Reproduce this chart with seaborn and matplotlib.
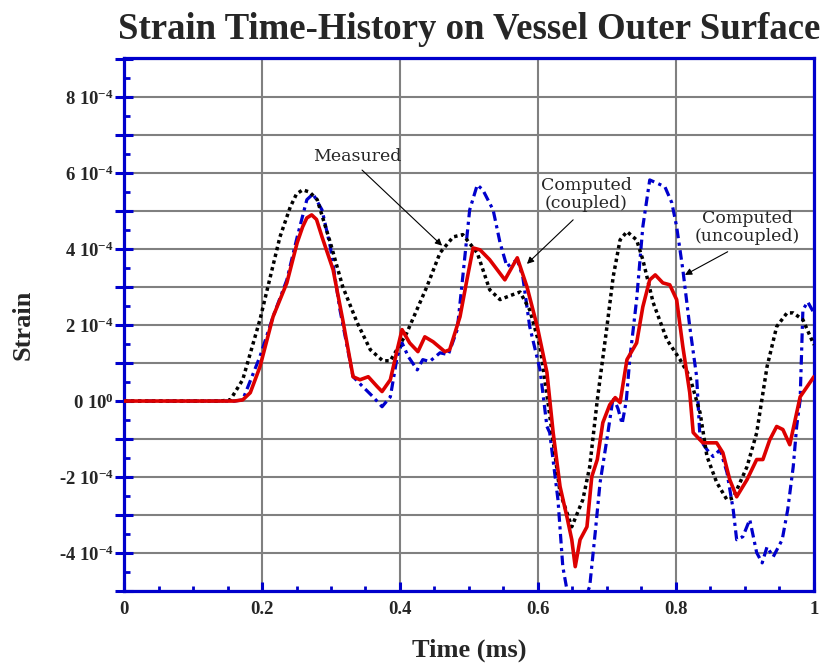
import numpy as np
import pandas as pd
import matplotlib
matplotlib.use("Agg")
import matplotlib.pyplot as plt
from matplotlib.ticker import FixedLocator, FuncFormatter, MultipleLocator
import seaborn as sns

# ---- data (strain in units of 1e-4) ----
t_meas = [0.0, 0.139, 0.154, 0.172, 0.197, 0.212, 0.226, 0.241, 0.250, 0.259, 0.269, 0.280, 0.299, 0.317,
          0.338, 0.357, 0.375, 0.386, 0.410, 0.439, 0.458, 0.477, 0.491, 0.512, 0.530, 0.545,
          0.559, 0.574, 0.588, 0.603, 0.614, 0.632, 0.649, 0.665, 0.675, 0.686, 0.700, 0.709,
          0.719, 0.729, 0.743, 0.752, 0.767, 0.787, 0.806, 0.820, 0.835, 0.845, 0.859, 0.874,
          0.883, 0.903, 0.917, 0.932, 0.946, 0.961, 0.970, 0.984, 1.0]
s_meas = [0.0, 0.0, 0.03, 0.56, 2.14, 3.27, 4.32, 5.11, 5.45, 5.56, 5.50, 5.30, 4.17, 3.01,
          2.06, 1.35, 1.06, 1.06, 1.80, 3.01, 3.90, 4.32, 4.38, 3.90, 2.93, 2.67,
          2.77, 2.87, 2.40, 1.43, 0.03, -2.41, -3.31, -2.60, -1.73, 0.03, 1.96, 3.27,
          4.24, 4.46, 4.24, 3.72, 2.59, 1.61, 1.09, 0.64, -0.31, -1.46, -2.14, -2.60,
          -2.55, -1.73, -0.84, 0.90, 1.96, 2.32, 2.32, 2.14, 1.48]

t_coup = [0.0, 0.160, 0.172, 0.183, 0.197, 0.216, 0.236, 0.251, 0.259, 0.265, 0.272, 0.279, 0.287, 0.303,
          0.317, 0.332, 0.342, 0.354, 0.367, 0.374, 0.386, 0.396, 0.403, 0.414, 0.426, 0.436,
          0.448, 0.465, 0.472, 0.487, 0.497, 0.506, 0.516, 0.530, 0.552, 0.570, 0.584, 0.599,
          0.613, 0.622, 0.632, 0.642, 0.649, 0.654, 0.661, 0.671, 0.678, 0.686, 0.694, 0.704,
          0.712, 0.719, 0.729, 0.743, 0.752, 0.762, 0.770, 0.781, 0.791, 0.801, 0.810, 0.820,
          0.825, 0.839, 0.859, 0.868, 0.878, 0.888, 0.903, 0.917, 0.926, 0.936, 0.946, 0.955,
          0.965, 0.975, 0.980, 1.0]
s_coup = [0.0, 0.0, 0.03, 0.22, 0.90, 2.22, 3.11, 4.17, 4.59, 4.82, 4.90, 4.78, 4.32, 3.46,
          2.14, 0.64, 0.56, 0.64, 0.38, 0.25, 0.56, 1.35, 1.88, 1.53, 1.30, 1.69,
          1.56, 1.30, 1.35, 2.22, 3.19, 4.03, 3.98, 3.72, 3.19, 3.77, 3.01, 1.96,
          0.75, -0.83, -2.25, -3.05, -3.65, -4.36, -3.65, -3.31, -1.99, -1.54, -0.57, -0.10,
          0.09, -0.04, 1.09, 1.53, 2.48, 3.19, 3.32, 3.11, 3.06, 2.67, 1.43, 0.22,
          -0.83, -1.10, -1.10, -1.36, -2.07, -2.52, -2.07, -1.54, -1.54, -1.02, -0.67, -0.75,
          -1.15, -0.31, 0.11, 0.64]

t_unc = [0.0, 0.160, 0.172, 0.197, 0.216, 0.236, 0.251, 0.265, 0.274, 0.287, 0.299, 0.313,
         0.332, 0.346, 0.361, 0.374, 0.386, 0.396, 0.403, 0.412, 0.425, 0.433, 0.443, 0.458,
         0.470, 0.483, 0.491, 0.501, 0.512, 0.520, 0.535, 0.545, 0.555, 0.570, 0.578, 0.588,
         0.603, 0.613, 0.617, 0.629, 0.636, 0.642, 0.655, 0.675, 0.683, 0.690, 0.700, 0.709,
         0.716, 0.722, 0.728, 0.733, 0.743, 0.752, 0.762, 0.772, 0.784, 0.794, 0.801, 0.810,
         0.820, 0.830, 0.835, 0.845, 0.854, 0.864, 0.874, 0.883, 0.888, 0.897, 0.907, 0.917,
         0.925, 0.932, 0.941, 0.954, 0.962, 0.970, 0.975, 0.980, 0.984, 0.991, 1.0]
s_unc = [0.0, 0.0, 0.03, 1.17, 2.22, 3.19, 4.32, 5.30, 5.45, 5.03, 4.06, 2.40,
         0.64, 0.38, 0.11, -0.15, 0.11, 1.17, 1.53, 1.17, 0.82, 1.09, 1.04, 1.27,
         1.22, 1.88, 3.27, 5.03, 5.69, 5.56, 5.03, 4.17, 3.54, 3.72, 3.27, 1.96,
         0.82, -0.67, -0.83, -2.60, -4.36, -4.97, -5.80, -4.88, -3.46, -2.15, -1.00, 0.10,
         -0.20, -0.60, 0.00, 1.09, 2.67, 4.59, 5.82, 5.74, 5.64, 5.22, 4.59, 3.46,
         1.96, 0.64, -1.02, -1.28, -1.46, -1.28, -1.88, -2.86, -3.65, -3.57, -3.12, -3.99,
         -4.26, -3.84, -4.10, -3.65, -2.86, -1.73, -0.67, 0.03, 2.40, 2.61, 2.32]

title = "Strain Time-History on Vessel Outer Surface"
xlabel = "Time (ms)"
ylabel = "Strain"
x_ticks = [0, 0.2, 0.4, 0.6, 0.8, 1.0]
x_ticklabels = ["0", "0.2", "0.4", "0.6", "0.8", "1"]
y_tick_units = list(range(-5, 10))  # in 1e-4

SCALE = 1e-4
BLUE = "#0000CC"
RED = "#DD0000"

sns.set_theme(style="white")
plt.rcParams["font.family"] = ["Liberation Serif", "DejaVu Serif"]
plt.rcParams["mathtext.fontset"] = "custom"
plt.rcParams["mathtext.rm"] = "Liberation Serif:bold"
plt.rcParams["mathtext.default"] = "rm"

fig = plt.figure(figsize=(8.28, 6.65), dpi=100)
ax = fig.add_axes([0.1498, 0.1113, 0.8332, 0.8015])

df_u = pd.DataFrame({"t": t_unc, "s": np.array(s_unc) * SCALE})
df_m = pd.DataFrame({"t": t_meas, "s": np.array(s_meas) * SCALE})
df_c = pd.DataFrame({"t": t_coup, "s": np.array(s_coup) * SCALE})

sns.lineplot(data=df_u, x="t", y="s", ax=ax, color=BLUE, linewidth=2.3,
             estimator=None, sort=False, zorder=3)
ax.lines[-1].set_dashes((3.0, 1.4, 1.0, 1.4))
sns.lineplot(data=df_m, x="t", y="s", ax=ax, color="black", linewidth=2.5,
             estimator=None, sort=False, zorder=4)
ax.lines[-1].set_dashes((1.0, 1.0))
sns.lineplot(data=df_c, x="t", y="s", ax=ax, color=RED, linewidth=2.6,
             estimator=None, sort=False, zorder=5)
ax.lines[-1].set_solid_joinstyle("round")

ax.set_xlim(0, 1)
ax.set_ylim(-5 * SCALE, 9.03 * SCALE)

ax.xaxis.set_major_locator(FixedLocator(x_ticks))
ax.set_xticklabels(x_ticklabels)
ax.xaxis.set_minor_locator(MultipleLocator(0.05))

ax.yaxis.set_major_locator(FixedLocator([k * SCALE for k in y_tick_units]))
ax.yaxis.set_minor_locator(FixedLocator([(k + 0.5) * SCALE for k in y_tick_units]))

def yfmt(v, pos):
    k = int(round(v / SCALE))
    if k % 2 != 0:
        return ""
    if k == 0:
        return "0 10$^{0}$"
    return f"{k} 10$^{{-4}}$"

ax.yaxis.set_major_formatter(FuncFormatter(yfmt))

ax.grid(True, which="major", color="#808080", linewidth=1.5)
ax.set_axisbelow(True)

for sp in ax.spines.values():
    sp.set_color(BLUE)
    sp.set_linewidth(2.3)
    sp.set_visible(True)

ax.tick_params(axis="y", which="major", direction="inout", length=13, width=2.2,
               color=BLUE, left=True, right=False, pad=1, labelsize=13.5)
ax.tick_params(axis="y", which="minor", direction="in", length=4, width=2.0,
               color=BLUE, left=True, right=False)
ax.tick_params(axis="x", which="major", direction="in", length=6.5, width=2.2,
               color=BLUE, bottom=True, top=False, pad=7, labelsize=13.5)
ax.tick_params(axis="x", which="minor", direction="in", length=3.6, width=2.0,
               color=BLUE, bottom=True, top=False)
for lab in ax.get_xticklabels() + ax.get_yticklabels():
    lab.set_fontweight("bold")

ax.set_title(title, fontsize=26.5, fontweight="bold", pad=14)
ax.set_xlabel(xlabel, fontsize=19, fontweight="bold", labelpad=15)
ax.set_ylabel(ylabel, fontsize=19, fontweight="bold", labelpad=17)

afont = dict(family=["DejaVu Serif"], fontsize=12.5, ha="center", va="center",
             linespacing=1.05)
arrow = dict(arrowstyle="-|>", color="black", lw=0.8, mutation_scale=10,
             shrinkA=0, shrinkB=0)
ax.text(0.338, 6.43 * SCALE, "Measured", **afont)
ax.annotate("", xy=(0.461, 4.09 * SCALE), xytext=(0.345, 6.08 * SCALE), arrowprops=arrow)
ax.text(0.670, 5.43 * SCALE, "Computed\n(coupled)", **afont)
ax.annotate("", xy=(0.584, 3.61 * SCALE), xytext=(0.651, 4.77 * SCALE), arrowprops=arrow)
ax.text(0.903, 4.56 * SCALE, "Computed\n(uncoupled)", **afont)
ax.annotate("", xy=(0.813, 3.32 * SCALE), xytext=(0.875, 3.93 * SCALE), arrowprops=arrow)

fig.savefig("out.png", dpi=100)
